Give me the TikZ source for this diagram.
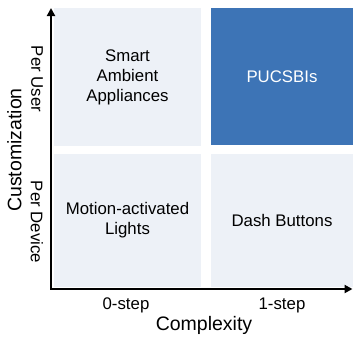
\documentclass[tikz,border=0pt]{standalone}
\usepackage{fontspec}
\setmainfont{Liberation Sans}
\usepackage{tikz}
\usetikzlibrary{arrows.meta}

\definecolor{cellpale}{HTML}{EDF1F7}
\definecolor{celldark}{HTML}{3D74B6}

\begin{document}
\begin{tikzpicture}[x=1pt,y=-1pt,
  cell/.style={rectangle, fill=cellpale, inner sep=0pt, align=center,
    font=\fontsize{16.8}{20}\selectfont},
  tick/.style={font=\fontsize{16.8}{20}\selectfont},
  axtitle/.style={font=\fontsize{19.5}{23}\selectfont},
  axis/.style={line width=2pt, arrows={Triangle[length=8pt,width=8pt]-Triangle[length=8pt,width=8pt]}}]
\useasboundingbox (0,0) rectangle (353,338);
\begin{scope}[shift={(0,0)}]
\node[cell, minimum width=147pt, minimum height=138pt] (sa) at (127.5,77) {Smart\\Ambient\\Appliances};
\node[cell, fill=celldark, text=white, minimum width=142pt, minimum height=137pt] (pu) at (282,76.5) {PUCSBIs};
\node[cell, minimum width=147pt, minimum height=133pt] (ml) at (127.5,220.5) {Motion-activated\\Lights};
\node[cell, minimum width=142pt, minimum height=133pt] (db) at (282,220.5) {Dash Buttons};
\coordinate (ytip) at (51,8);
\coordinate (orig) at (51,289);
\coordinate (xtip) at (352.5,289);
\draw[axis] (ytip) -- (orig) -- (xtip);
\node[tick] (zero) at (126,305) {0-step};
\node[tick] (one) at (282,305) {1-step};
\node[axtitle] (cx) at (204,325) {Complexity};
\node[tick, rotate=-90] (pusr) at (37,79) {Per User};
\node[tick, rotate=-90] (pdev) at (37,222) {Per Device};
\node[axtitle, rotate=90] (cust) at (14.5,150) {Customization};
\end{scope}

\end{tikzpicture}
\end{document}
